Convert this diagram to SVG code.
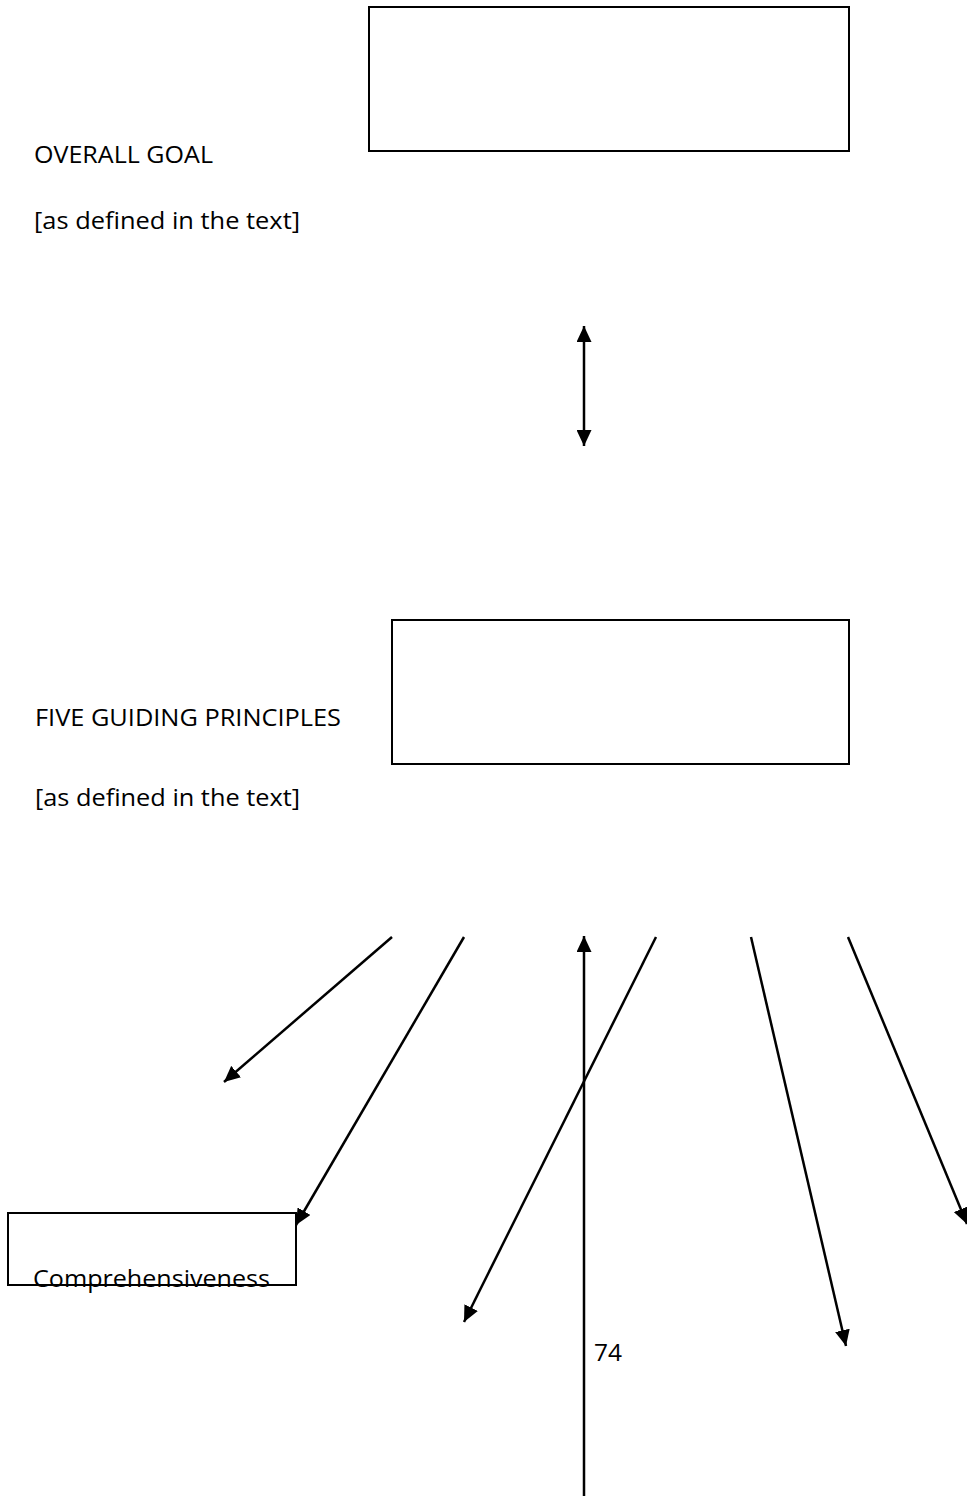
<svg xmlns="http://www.w3.org/2000/svg" width="967" height="1496" viewBox="0 0 967 1496">
<style>
.box{fill:#fff;stroke:#000;stroke-width:2}
.lbl{font-family:"Open Sans","Liberation Sans",sans-serif;font-size:24px;fill:#000}
.con{stroke:#000;stroke-width:2.5;fill:none}
</style>
<defs>
<marker id="ah" markerUnits="userSpaceOnUse" markerWidth="16" markerHeight="15" viewBox="0 0 16 15" refX="16" refY="7.5" orient="auto-start-reverse">
<path d="M0,0 L16,7.5 L0,15 z" fill="#000"/>
</marker>
</defs>
<rect width="967" height="1496" fill="#fff"/>
<g id="goal">
<rect class="box" x="369" y="7" width="480" height="144"/>
<text class="lbl" x="34" y="163" textLength="179" lengthAdjust="spacingAndGlyphs">OVERALL GOAL</text>
<text class="lbl" x="34" y="229" textLength="266" lengthAdjust="spacingAndGlyphs">[as defined in the text]</text>
</g>
<g id="principles">
<rect class="box" x="392" y="620" width="457" height="144"/>
<text class="lbl" x="35" y="726" textLength="306" lengthAdjust="spacingAndGlyphs">FIVE GUIDING PRINCIPLES</text>
<text class="lbl" x="35" y="806" textLength="265" lengthAdjust="spacingAndGlyphs">[as defined in the text]</text>
</g>
<g id="comprehensiveness">
<rect class="box" x="8" y="1213" width="288" height="72"/>
<text class="lbl" x="33" y="1287" textLength="237" lengthAdjust="spacingAndGlyphs">Comprehensiveness</text>
</g>
<g id="page-number">
<text class="lbl" x="594" y="1361" textLength="28" lengthAdjust="spacingAndGlyphs">74</text>
</g>
<g id="connectors">
<line class="con" x1="584" y1="326" x2="584" y2="446" marker-start="url(#ah)" marker-end="url(#ah)"/>
<line class="con" x1="392" y1="937" x2="224" y2="1082" marker-end="url(#ah)"/>
<line class="con" x1="464" y1="937" x2="296" y2="1225" marker-end="url(#ah)"/>
<line class="con" x1="584" y1="1496" x2="584" y2="936" marker-end="url(#ah)"/>
<line class="con" x1="656" y1="937" x2="464" y2="1322" marker-end="url(#ah)"/>
<line class="con" x1="751" y1="937" x2="846" y2="1346" marker-end="url(#ah)"/>
<line class="con" x1="848" y1="937" x2="967" y2="1224" marker-end="url(#ah)"/>
</g>
</svg>
